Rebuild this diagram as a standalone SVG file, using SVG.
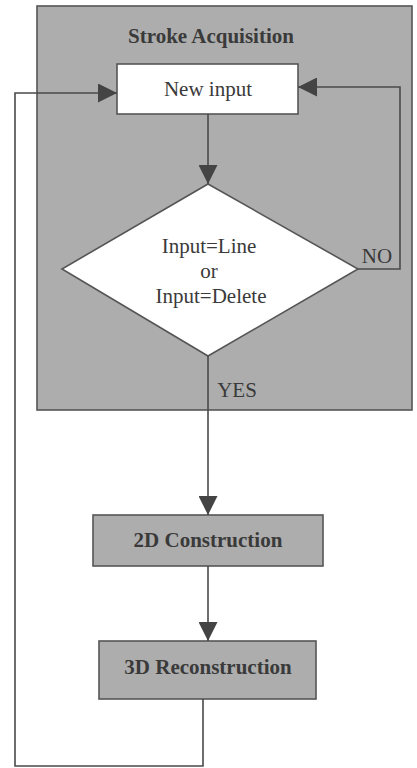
<svg xmlns="http://www.w3.org/2000/svg" width="417" height="768" viewBox="0 0 417 768">
<defs>
<marker id="arr" viewBox="0 0 10 10" refX="10" refY="5" markerWidth="20" markerHeight="19" markerUnits="userSpaceOnUse" orient="auto">
<path d="M0,0 L10,5 L0,10 Z" fill="#444"/>
</marker>
<style>
.ln{fill:none;stroke:#4a4a4a;stroke-width:1.6}
.gray{fill:#adadad;stroke:#555;stroke-width:1.6}
.white{fill:#fff;stroke:#555;stroke-width:1.6}
.t{font-family:"Liberation Serif","Times New Roman",serif;font-size:21px;fill:#3a3a3a;text-anchor:middle}
.b{font-weight:bold}
</style>
</defs>
<rect width="417" height="768" fill="#fff"/>
<g id="stroke-acquisition">
<rect class="gray" x="37" y="6" width="375" height="404"/>
<text class="t b" x="211" y="43" font-size="20">Stroke Acquisition</text>
</g>
<g id="new-input">
<rect class="white" x="117" y="64" width="181" height="50"/>
<text class="t" x="208" y="96">New input</text>
</g>
<g id="decision">
<polygon class="white" points="208,184 358,269 208,356 62,269"/>
<text class="t" x="209" y="253">Input=Line</text>
<text class="t" x="209" y="278">or</text>
<text class="t" x="211" y="303">Input=Delete</text>
</g>
<g id="construction-2d">
<rect class="gray" x="93" y="515" width="230" height="51"/>
<text class="t b" x="208" y="547">2D Construction</text>
</g>
<g id="reconstruction-3d">
<rect class="gray" x="99" y="641" width="217" height="58"/>
<text class="t b" x="208" y="674">3D Reconstruction</text>
</g>
<g id="connectors">
<path class="ln" d="M208,114 V184" marker-end="url(#arr)"/>
<path class="ln" d="M358,269 H400 V87 H298" marker-end="url(#arr)"/>
<path class="ln" d="M208,356 V515" marker-end="url(#arr)"/>
<path class="ln" d="M208,566 V641" marker-end="url(#arr)"/>
<path class="ln" d="M203,699 V766 H15 V93 H117" marker-end="url(#arr)"/>
<text class="t" x="377" y="263">NO</text>
<text class="t" x="237" y="397">YES</text>
</g>
</svg>
